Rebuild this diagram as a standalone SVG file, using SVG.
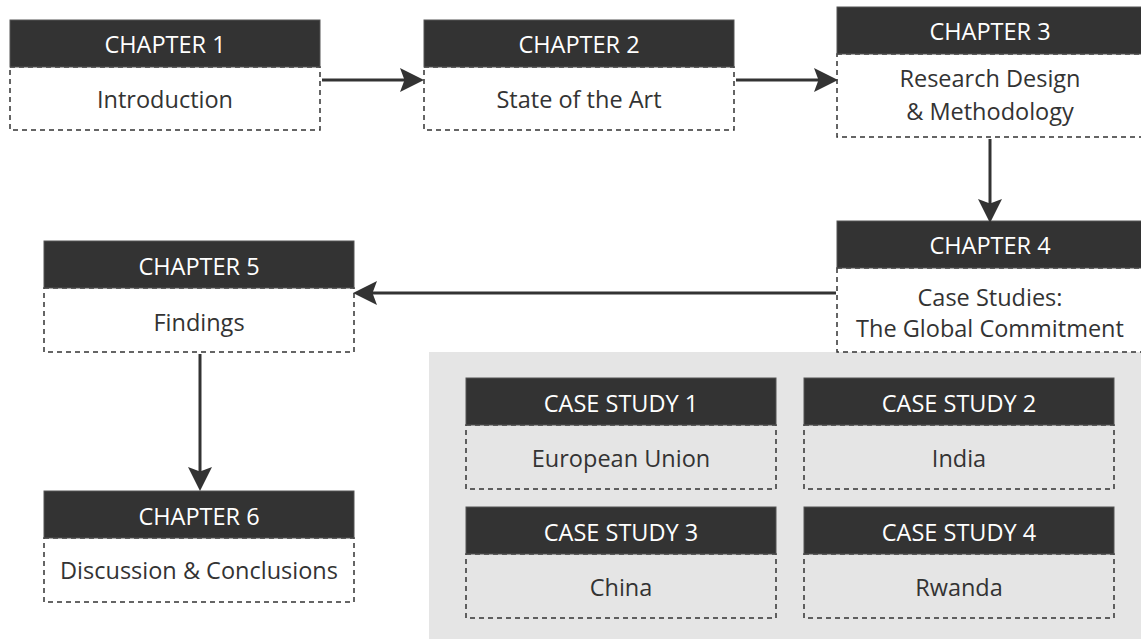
<svg xmlns="http://www.w3.org/2000/svg" width="1141" height="639" viewBox="0 0 1141 639">
<style>
.hd{fill:#333333;stroke:#555555;stroke-width:1}
.bd{fill:none;stroke:#333333;stroke-width:1.5;stroke-dasharray:5 4}
.ht{font-family:"Open Sans",sans-serif;font-size:23.5px;fill:#ffffff;text-anchor:middle;dominant-baseline:central}
.bt{font-family:"Open Sans",sans-serif;font-size:23.5px;fill:#333333;text-anchor:middle;dominant-baseline:central}
.cn{stroke:#333333;stroke-width:3;fill:none;marker-end:url(#ah)}
</style>
<defs>
<marker id="ah" markerWidth="8" markerHeight="8" refX="6" refY="4" orient="auto" markerUnits="strokeWidth">
<path d="M0,0 L8,4 L0,8 L1.5,4 Z" fill="#333333"/>
</marker>
</defs>
<rect width="1141" height="639" fill="#ffffff"/>
<rect id="panel" x="429" y="352" width="712" height="287" fill="#e5e5e5"/>
<g id="ch1">
<rect class="bd" x="10" y="67" width="310" height="63"/>
<rect class="hd" x="10" y="20" width="310" height="47"/>
<text class="ht" x="165" y="44">CHAPTER 1</text>
<text class="bt" x="165" y="99">Introduction</text>
</g>
<g id="ch2">
<rect class="bd" x="424" y="67" width="310" height="63"/>
<rect class="hd" x="424" y="20" width="310" height="47"/>
<text class="ht" x="579" y="44">CHAPTER 2</text>
<text class="bt" x="579" y="99">State of the Art</text>
</g>
<g id="ch3">
<rect class="bd" x="837" y="54" width="310" height="83"/>
<rect class="hd" x="837" y="7" width="310" height="47"/>
<text class="ht" x="990" y="31">CHAPTER 3</text>
<text class="bt" x="990" y="78">Research Design</text>
<text class="bt" x="990" y="111">&amp; Methodology</text>
</g>
<g id="ch4">
<rect class="bd" x="837" y="268" width="310" height="84"/>
<rect class="hd" x="837" y="221" width="310" height="47"/>
<text class="ht" x="990" y="245">CHAPTER 4</text>
<text class="bt" x="990" y="297">Case Studies:</text>
<text class="bt" x="990" y="328">The Global Commitment</text>
</g>
<g id="ch5">
<rect class="bd" x="44" y="288" width="310" height="64"/>
<rect class="hd" x="44" y="241" width="310" height="47"/>
<text class="ht" x="199" y="266">CHAPTER 5</text>
<text class="bt" x="199" y="322">Findings</text>
</g>
<g id="ch6">
<rect class="bd" x="44" y="538" width="310" height="64"/>
<rect class="hd" x="44" y="491" width="310" height="47"/>
<text class="ht" x="199" y="516">CHAPTER 6</text>
<text class="bt" x="199" y="570">Discussion &amp; Conclusions</text>
</g>
<g id="cs1">
<rect class="bd" x="466" y="425" width="310" height="64"/>
<rect class="hd" x="466" y="378" width="310" height="47"/>
<text class="ht" x="621" y="403">CASE STUDY 1</text>
<text class="bt" x="621" y="458">European Union</text>
</g>
<g id="cs2">
<rect class="bd" x="804" y="425" width="310" height="64"/>
<rect class="hd" x="804" y="378" width="310" height="47"/>
<text class="ht" x="959" y="403">CASE STUDY 2</text>
<text class="bt" x="959" y="458">India</text>
</g>
<g id="cs3">
<rect class="bd" x="466" y="554" width="310" height="64"/>
<rect class="hd" x="466" y="507" width="310" height="47"/>
<text class="ht" x="621" y="532">CASE STUDY 3</text>
<text class="bt" x="621" y="587">China</text>
</g>
<g id="cs4">
<rect class="bd" x="804" y="554" width="310" height="64"/>
<rect class="hd" x="804" y="507" width="310" height="47"/>
<text class="ht" x="959" y="532">CASE STUDY 4</text>
<text class="bt" x="959" y="587">Rwanda</text>
</g>
<g id="connectors">
<line class="cn" x1="322" y1="80" x2="418" y2="80"/>
<line class="cn" x1="736" y1="80" x2="832" y2="80"/>
<line class="cn" x1="990" y1="139" x2="990" y2="217"/>
<line class="cn" x1="836" y1="293" x2="359" y2="293"/>
<line class="cn" x1="200" y1="354" x2="200" y2="485"/>
</g>
</svg>
